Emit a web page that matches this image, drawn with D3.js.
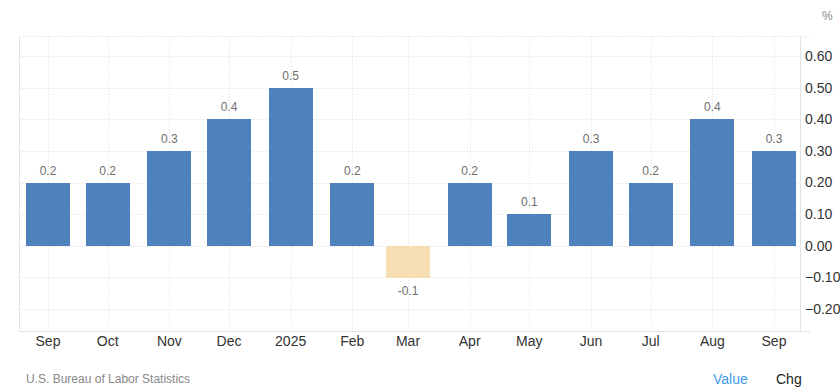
<!DOCTYPE html>
<html>
<head>
<meta charset="utf-8">
<script src="https://cdn.jsdelivr.net/npm/d3@7"></script>
<style>
  body { margin: 0; background: #fff; }
  svg { display: block; font-family: "Liberation Sans", Arial, sans-serif; }
</style>
</head>
<body>
<div class="chart"></div>
<script>
var months = ["2024-09-01", "2024-10-01", "2024-11-01", "2024-12-01", "2025-01-01", "2025-02-01",
              "2025-03-01", "2025-04-01", "2025-05-01", "2025-06-01", "2025-07-01", "2025-08-01", "2025-09-01"];
var tickLabels = ["Sep", "Oct", "Nov", "Dec", "2025", "Feb", "Mar", "Apr", "May", "Jun", "Jul", "Aug", "Sep"];
var values = [0.2, 0.2, 0.3, 0.4, 0.5, 0.2, -0.1, 0.2, 0.1, 0.3, 0.2, 0.4, 0.3];
var yTicks = [-0.2, -0.1, 0, 0.1, 0.2, 0.3, 0.4, 0.5, 0.6];

(function () {
    var width = 840, height = 391;
    var left = 19.5, right = 800.5, top = 36.5, bottom = 331.5;
    var barWidth = 44;
    var parse = d3.timeParse("%Y-%m-%d");
    var dates = months.map(parse);

    var svg = d3.select(".chart").append("svg")
        .attr("width", width)
        .attr("height", height);

    var x = d3.scaleTime()
        .domain([dates[0], dates[dates.length - 1]])
        .range([48, 774]);
    var y = d3.scaleLinear()
        .domain([-0.2, 0.6])
        .range([309, 56]);

    /*
        Grid
    */
    var grid = svg.append("g").attr("class", "grid");
    grid.selectAll("line.h")
        .data(yTicks)
        .enter().append("line")
        .attr("class", "h")
        .attr("x1", left).attr("x2", right)
        .attr("y1", function (d) { return Math.round(y(d)) + 0.5; })
        .attr("y2", function (d) { return Math.round(y(d)) + 0.5; })
        .attr("stroke", "#dcdcdc")
        .attr("stroke-dasharray", "1,2");
    grid.selectAll("line.v")
        .data(dates)
        .enter().append("line")
        .attr("class", "v")
        .attr("x1", function (d) { return Math.round(x(d)) + 0.5; })
        .attr("x2", function (d) { return Math.round(x(d)) + 0.5; })
        .attr("y1", top).attr("y2", bottom)
        .attr("stroke", "#dcdcdc")
        .attr("stroke-dasharray", "1,2");
    // frame
    grid.append("line")
        .attr("x1", left).attr("x2", 810).attr("y1", top).attr("y2", top)
        .attr("stroke", "#dcdcdc").attr("stroke-dasharray", "1,2");
    grid.append("line")
        .attr("x1", left).attr("x2", 810).attr("y1", bottom).attr("y2", bottom)
        .attr("stroke", "#e3e3e3");
    grid.append("line")
        .attr("x1", left).attr("x2", left).attr("y1", top).attr("y2", bottom)
        .attr("stroke", "#e3e3e3");
    grid.append("line")
        .attr("x1", right).attr("x2", right).attr("y1", top).attr("y2", bottom)
        .attr("stroke", "#e3e3e3");

    /*
        Bars
    */
    var data = dates.map(function (d, i) { return { date: d, value: values[i] }; });
    var bars = svg.selectAll("g.bar")
        .data(data)
        .enter().append("g")
        .attr("class", "bar");
    bars.append("rect")
        .attr("x", function (d) { return Math.round(x(d.date) - barWidth / 2); })
        .attr("y", function (d) { return Math.round(y(Math.max(0, d.value))); })
        .attr("width", barWidth)
        .attr("height", function (d) { return Math.round(Math.abs(y(d.value) - y(0))); })
        .attr("fill", function (d) { return d.value < 0 ? "#f5deb3" : "#4f81bd"; });
    bars.append("text")
        .attr("x", function (d) { return x(d.date); })
        .attr("y", function (d) { return d.value < 0 ? y(d.value) + 18 : y(d.value) - 8; })
        .attr("text-anchor", "middle")
        .attr("font-size", 12)
        .attr("fill", "#6e6e6e")
        .text(function (d) { return d.value.toFixed(1); });

    /*
        Axes
    */
    var xAxis = svg.append("g").attr("class", "x-axis");
    xAxis.selectAll("text")
        .data(dates)
        .enter().append("text")
        .attr("x", function (d) { return x(d); })
        .attr("y", 346)
        .attr("text-anchor", "middle")
        .attr("font-size", 14)
        .attr("fill", "#333")
        .text(function (d, i) { return tickLabels[i]; });

    var yAxis = svg.append("g").attr("class", "y-axis");
    yAxis.selectAll("text")
        .data(yTicks)
        .enter().append("text")
        .attr("x", 805)
        .attr("y", function (d) { return y(d); })
        .attr("dy", ".35em")
        .attr("font-size", 14)
        .attr("fill", "#333")
        .text(function (d) { return d3.format(".2f")(d); });

    svg.append("text")
        .attr("x", 822).attr("y", 20)
        .attr("font-size", 12).attr("fill", "#888")
        .text("%");

    /*
        Footer
    */
    svg.append("text")
        .attr("x", 26).attr("y", 383)
        .attr("font-size", 12).attr("fill", "#888")
        .text("U.S. Bureau of Labor Statistics");
    svg.append("text")
        .attr("x", 713).attr("y", 384)
        .attr("font-size", 14).attr("fill", "#3d9be9")
        .text("Value");
    svg.append("text")
        .attr("x", 776).attr("y", 384)
        .attr("font-size", 14).attr("fill", "#222")
        .text("Chg");
})();
</script>
</body>
</html>
